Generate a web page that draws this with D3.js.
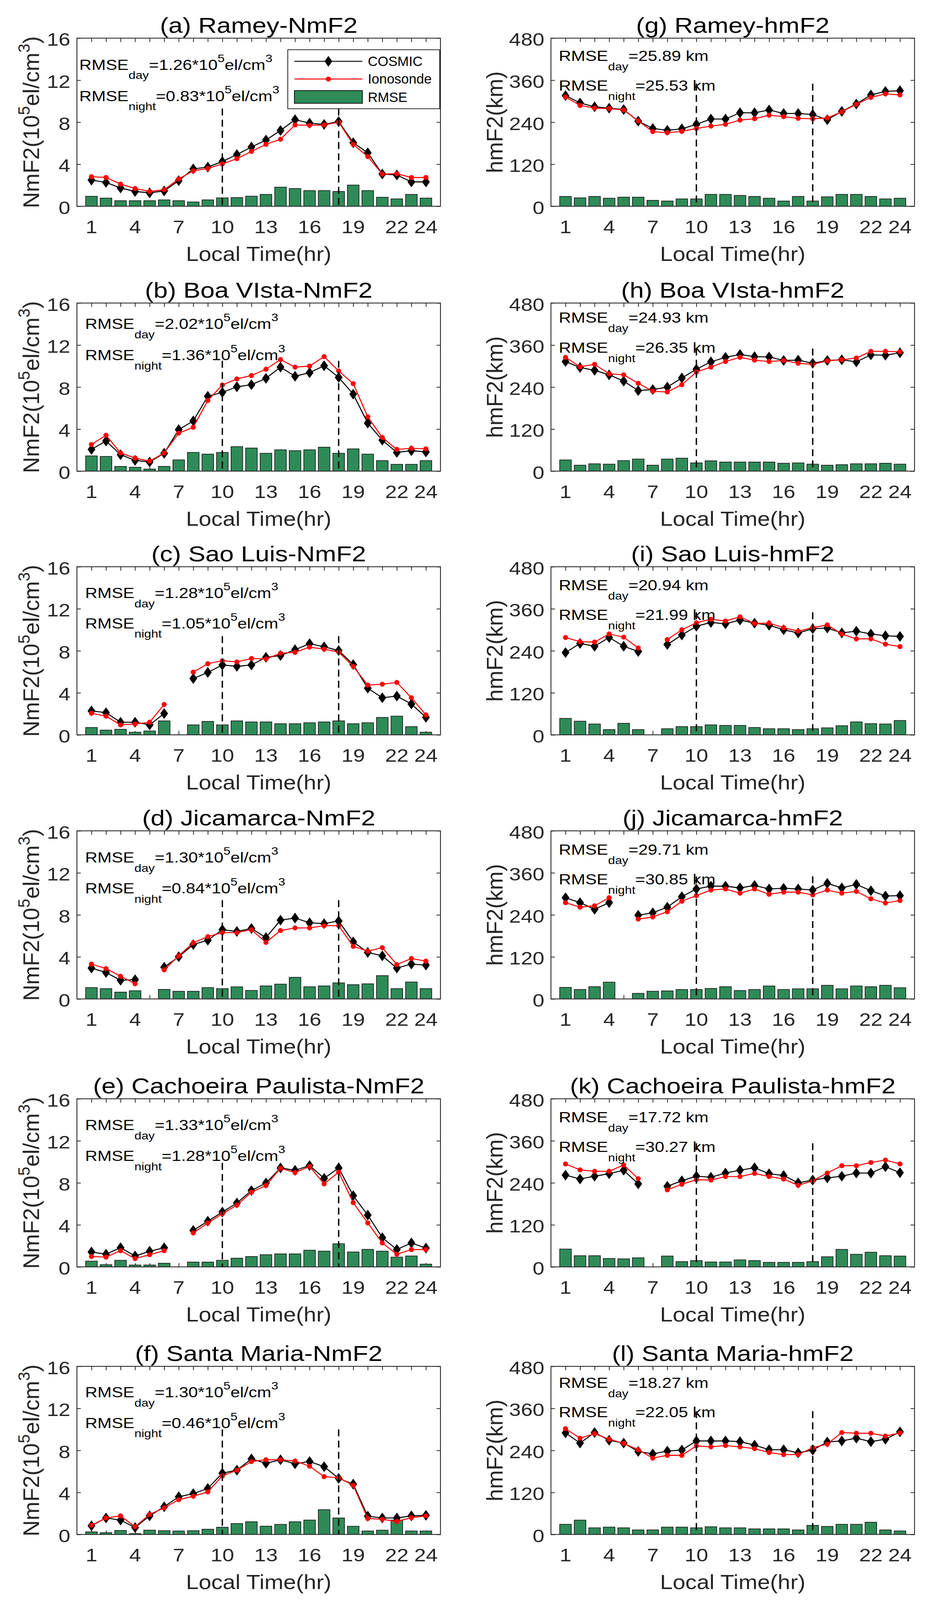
<!DOCTYPE html>
<html>
<head>
<meta charset="utf-8">
<script src="https://cdn.jsdelivr.net/npm/d3@7"></script>
<style>
html, body { margin: 0; padding: 0; background: #fff; overflow: hidden; }
svg { display: block; }
text { font-family: "Liberation Sans", Arial, sans-serif; }
</style>
</head>
<body>
<div id="chart"></div>
<script>
// ---- data ----
const hours = d3.range(1, 25);
const xTickLabels = [1, 4, 7, 10, 13, 16, 19, 22, 24];
const nmTicks = [0, 4, 8, 12, 16];
const hmTicks = [0, 120, 240, 360, 480];

const rameyNmCosmic = [2.49,2.27,1.74,1.41,1.28,1.46,2.44,3.56,3.73,4.26,4.92,5.64,6.30,7.21,8.24,7.91,7.79,8.07,6.05,5.09,3.07,2.98,2.32,2.32];
const rameyNmIono   = [2.82,2.74,2.11,1.69,1.41,1.58,2.60,3.37,3.60,4.03,4.53,5.22,5.89,6.38,7.74,7.71,7.74,8.01,5.89,4.73,3.07,3.10,2.74,2.74];
const rameyNmRmse   = [0.95,0.78,0.53,0.53,0.53,0.61,0.53,0.41,0.61,0.80,0.83,0.96,1.13,1.82,1.69,1.49,1.49,1.41,2.02,1.49,0.86,0.70,1.13,0.78];

const rameyHmCosmic = [316,295,284,280,276,243,222,217,221,234,249,249,267,267,275,265,265,262,247,271,292,318,328,330];
const rameyHmIono   = [312,288,280,279,275,244,213,210,214,222,229,234,246,250,260,256,251,250,252,270,291,311,321,318];
const rameyHmRmse   = [28,24,28,23,26,26,17,15,21,21,34,34,31,28,23,15,28,15,27,34,34,28,21,23];

const boaNmCosmic = [2.07,2.87,1.57,1.03,0.87,1.70,3.95,4.78,7.12,7.50,8.03,8.23,8.83,9.90,9.03,9.37,10.03,8.92,7.33,4.57,2.95,1.78,1.95,1.83];
const boaNmIono   = [2.53,3.42,1.73,1.25,0.95,1.73,3.62,4.17,6.73,8.20,8.78,9.10,9.70,10.62,9.90,10.00,10.90,9.53,8.33,5.17,3.20,2.07,2.17,2.12];
const boaNmRmse   = [1.45,1.40,0.45,0.37,0.20,0.45,1.07,1.78,1.62,1.78,2.33,2.20,1.70,2.03,1.95,2.03,2.28,1.70,2.12,1.62,1.00,0.65,0.65,1.00];

const boaHmCosmic = [313,296,288,275,257,230,233,240,266,291,312,325,333,327,326,316,317,308,316,318,312,332,331,338];
const boaHmIono   = [325,298,305,278,275,251,228,226,247,283,297,313,325,317,313,316,308,305,315,318,323,342,342,341];
const boaHmRmse   = [32,17,21,20,30,34.5,17,34.5,37,23.5,29.5,26,26,26,26,22.5,23.5,20,17,18.5,21,21,22.5,20];

const saoNmCosmic = [2.28,2.11,1.20,1.20,0.95,2.03,null,5.36,5.94,6.65,6.52,6.65,7.38,7.55,8.10,8.68,8.38,8.02,6.69,4.44,3.53,3.69,2.94,1.66];
const saoNmIono   = [2.06,1.78,0.95,1.03,1.20,2.89,null,5.97,6.77,7.05,6.94,7.27,7.22,7.77,7.85,8.35,8.15,7.88,6.52,4.74,4.82,4.99,3.53,1.90];
const saoNmRmse   = [0.70,0.45,0.53,0.25,0.37,1.33,null,0.95,1.28,0.95,1.33,1.23,1.23,1.06,1.06,1.15,1.23,1.33,1.06,1.15,1.66,1.78,0.78,0.25];

const saoHmCosmic = [235,261,253,278,253,238,null,258,285,310,321,317,328,319,313,300,291,303,305,291,296,288,283,281];
const saoHmIono   = [278,266,265,288,279,248,null,272,300,320,330,325,337,318,319,306,296,306,314,288,274,274,259,252];
const saoHmRmse   = [47,39,31,15,33,15,null,17.5,23.5,23.5,28.5,27,27,21,17.5,17.5,15,17.5,20,26,37,32,31,41];

const jicNmCosmic = [2.94,2.52,1.78,1.83,null,3.02,4.02,5.18,5.59,6.59,6.42,6.71,5.84,7.50,7.70,7.25,7.17,7.42,5.43,4.43,4.10,2.94,3.32,3.22];
const jicNmIono   = [3.32,2.89,2.16,1.44,null,2.77,4.10,5.34,5.93,6.31,6.31,6.59,5.38,6.51,6.76,6.76,6.97,6.97,5.01,4.55,4.88,3.27,3.85,3.60];
const jicNmRmse   = [1.08,0.98,0.65,0.78,null,0.91,0.73,0.73,1.08,0.98,1.15,0.81,1.24,1.41,2.06,1.16,1.24,1.53,1.36,1.44,2.22,0.98,1.61,0.98];

const jicHmCosmic = [289,275,256,275,null,239,246,262,292,314,322,322,317,324,314,316,314,311,330,317,327,309,294,295];
const jicHmIono   = [275,262,266,289,null,228,234,249,279,295,311,314,302,314,299,305,305,297,311,302,307,286,274,281];
const jicHmRmse   = [33,27,35,48,null,16,22,23,27,27,30,35,24,27,37,27,29,29,39,29,37,35,39,32];

const cacNmCosmic = [1.42,1.21,1.83,1.04,1.49,1.82,null,3.47,4.35,5.22,6.08,7.27,7.98,9.42,9.19,9.64,8.43,9.42,6.78,4.93,2.78,1.65,2.28,1.79];
const cacNmIono   = [0.99,0.93,1.54,0.79,1.16,1.54,null,3.24,4.18,5.06,5.88,7.11,7.74,9.39,8.98,9.55,7.90,9.02,6.12,4.18,2.28,1.21,1.65,1.65];
const cacNmRmse   = [0.55,0.21,0.63,0.18,0.18,0.35,null,0.46,0.46,0.63,0.83,0.99,1.16,1.24,1.24,1.59,1.50,2.20,1.42,1.67,1.50,0.93,1.04,0.26];

const cacHmCosmic = [262,251,259,266,276,237,null,230,246,259,256,268,276,283,266,261,240,248,254,259,268,268,286,269];
const cacHmIono   = [294,277,273,273,291,252,null,220,236,249,248,258,258,267,258,251,233,246,268,289,289,298,305,294];
const cacHmRmse   = [51,32,32,24,23,26,null,31,15,18,14,14,20,18,13,13,13,15,29,50,36,42,32,31];

const smNmCosmic = [0.83,1.57,1.37,0.66,1.77,2.64,3.59,3.88,4.38,5.83,6.12,7.19,6.78,7.11,6.73,6.94,6.45,5.34,4.79,1.74,1.57,1.57,1.77,1.82];
const smNmIono   = [0.88,1.57,1.77,0.74,1.90,2.53,3.31,3.64,4.05,5.57,6.12,6.94,7.11,7.11,6.99,6.50,5.50,5.40,4.68,1.52,1.44,1.24,1.60,1.77];
const smNmRmse   = [0.25,0.17,0.38,0.08,0.41,0.36,0.33,0.36,0.50,0.69,1.04,1.21,0.79,0.96,1.21,1.37,2.36,1.57,0.78,0.33,0.41,1.37,0.33,0.33];

const smHmCosmic = [290,261,291,269,261,237,230,238,241,267,267,267,265,255,242,242,233,241,264,267,275,265,272,293];
const smHmIono   = [302,275,288,272,260,242,218,226,226,253,250,254,250,245,234,228,228,248,258,291,289,289,281,290];
const smHmRmse   = [29,41,19,21,19,13,13,21,21,19,22,19,19,16,16,16,13,26,23,29,29,35,13,10];

const panels = [
    {title: "(a) Ramey-NmF2", col: 0, row: 0, kind: "nm", cosmic: rameyNmCosmic, iono: rameyNmIono, rmse: rameyNmRmse, day: "1.26", night: "0.83", tx: 6, ty: [82, 163], dashTop: 9.3, legend: true},
    {title: "(b) Boa VIsta-NmF2", col: 0, row: 1, kind: "nm", cosmic: boaNmCosmic, iono: boaNmIono, rmse: boaNmRmse, day: "2.02", night: "1.36", tx: 21, ty: [67, 148], dashTop: 10.5},
    {title: "(c) Sao Luis-NmF2", col: 0, row: 2, kind: "nm", cosmic: saoNmCosmic, iono: saoNmIono, rmse: saoNmRmse, day: "1.28", night: "1.05", tx: 21, ty: [81, 160], dashTop: 9.4},
    {title: "(d) Jicamarca-NmF2", col: 0, row: 3, kind: "nm", cosmic: jicNmCosmic, iono: jicNmIono, rmse: jicNmRmse, day: "1.30", night: "0.84", tx: 21, ty: [82, 162], dashTop: 9.4},
    {title: "(e) Cachoeira Paulista-NmF2", col: 0, row: 4, kind: "nm", cosmic: cacNmCosmic, iono: cacNmIono, rmse: cacNmRmse, day: "1.33", night: "1.28", tx: 21, ty: [81, 161], dashTop: 9.9},
    {title: "(f) Santa Maria-NmF2", col: 0, row: 5, kind: "nm", cosmic: smNmCosmic, iono: smNmIono, rmse: smNmRmse, day: "1.30", night: "0.46", tx: 21, ty: [80, 160], dashTop: 10.0},
    {title: "(g) Ramey-hmF2", col: 1, row: 0, kind: "hm", cosmic: rameyHmCosmic, iono: rameyHmIono, rmse: rameyHmRmse, day: "25.89", night: "25.53", tx: 20, ty: [59, 136], dashTop: 350},
    {title: "(h) Boa VIsta-hmF2", col: 1, row: 1, kind: "hm", cosmic: boaHmCosmic, iono: boaHmIono, rmse: boaHmRmse, day: "24.93", night: "26.35", tx: 20, ty: [51, 129], dashTop: 350},
    {title: "(i) Sao Luis-hmF2", col: 1, row: 2, kind: "hm", cosmic: saoHmCosmic, iono: saoHmIono, rmse: saoHmRmse, day: "20.94", night: "21.99", tx: 20, ty: [61, 138], dashTop: 350},
    {title: "(j) Jicamarca-hmF2", col: 1, row: 3, kind: "hm", cosmic: jicHmCosmic, iono: jicHmIono, rmse: jicHmRmse, day: "29.71", night: "30.85", tx: 20, ty: [62, 139], dashTop: 350},
    {title: "(k) Cachoeira Paulista-hmF2", col: 1, row: 4, kind: "hm", cosmic: cacHmCosmic, iono: cacHmIono, rmse: cacHmRmse, day: "17.72", night: "30.27", tx: 20, ty: [61, 138], dashTop: 353},
    {title: "(l) Santa Maria-hmF2", col: 1, row: 5, kind: "hm", cosmic: smHmCosmic, iono: smHmIono, rmse: smHmRmse, day: "18.27", night: "22.05", tx: 20, ty: [56, 132], dashTop: 352}
];

// ---- layout ----
const W = 2374, H = 4150;
const colLeft = [197, 1411];
const rowTops = [99, 786, 1470, 2155, 2850, 3544];
const plotW = 931, plotH = 436;
const axisColor = "#262626";
const barColor = "#2e8b57";
const sx = 1.15;   // text in the figure is a bit wider than plain Arial

// fit the whole figure into the visible window
const viewW = window.innerWidth || W;
const viewH = window.innerHeight || H;

const svg = d3.select("#chart").append("svg")
    .attr("width", viewW)
    .attr("height", viewH)
    .attr("viewBox", "0 0 " + W + " " + H)
    .attr("preserveAspectRatio", "none");

svg.append("rect").attr("width", W).attr("height", H).attr("fill", "#fff");

function diamond(hw, hh) {
    return "M0," + (-hh) + "L" + hw + ",0L0," + hh + "L" + (-hw) + ",0Z";
}

panels.forEach(function(p) {
    let g = svg.append("g")
        .attr("transform", "translate(" + colLeft[p.col] + "," + rowTops[p.row] + ")");

    let x = d3.scaleLinear().domain([0, 25]).range([0, plotW]);
    let yTicks = p.kind === "nm" ? nmTicks : hmTicks;
    let y = d3.scaleLinear().domain([0, d3.max(yTicks)]).range([plotH, 0]);

    // white plot area
    g.append("rect").attr("width", plotW).attr("height", plotH).attr("fill", "#fff");

    // ticks (inward, MATLAB style)
    g.append("g").attr("transform", "translate(0," + plotH + ")")
        .call(d3.axisBottom(x).tickValues(hours).tickSizeInner(-10).tickSizeOuter(0).tickFormat(""))
        .call(s => s.select(".domain").remove());
    g.append("g")
        .call(d3.axisTop(x).tickValues(hours).tickSizeInner(-10).tickSizeOuter(0).tickFormat(""))
        .call(s => s.select(".domain").remove());
    g.append("g")
        .call(d3.axisLeft(y).tickValues(yTicks).tickSizeInner(-10).tickSizeOuter(0).tickFormat(""))
        .call(s => s.select(".domain").remove());
    g.append("g").attr("transform", "translate(" + plotW + ",0)")
        .call(d3.axisRight(y).tickValues(yTicks).tickSizeInner(-10).tickSizeOuter(0).tickFormat(""))
        .call(s => s.select(".domain").remove());
    g.selectAll(".tick line").attr("stroke", axisColor).attr("stroke-width", 2);

    // RMSE bars
    let bw = x(0.8) - x(0);
    g.selectAll(".bar")
        .data(hours.map((h, i) => ({h: h, v: p.rmse[i]})).filter(d => d.v != null))
        .enter().append("rect")
        .attr("class", "bar")
        .attr("x", d => x(d.h) - bw / 2)
        .attr("y", d => y(d.v))
        .attr("width", bw)
        .attr("height", d => y(0) - y(d.v))
        .attr("fill", barColor)
        .attr("stroke", "#111")
        .attr("stroke-width", 1.6);

    // series lines
    let line = d3.line()
        .defined(d => d.v != null)
        .x(d => x(d.h))
        .y(d => y(d.v));

    let cos = hours.map((h, i) => ({h: h, v: p.cosmic[i]}));
    let ion = hours.map((h, i) => ({h: h, v: p.iono[i]}));

    g.append("path").datum(cos).attr("d", line)
        .attr("fill", "none").attr("stroke", "#000").attr("stroke-width", 2.6);
    g.selectAll(".dia").data(cos.filter(d => d.v != null)).enter().append("path")
        .attr("class", "dia")
        .attr("d", diamond(10, 14))
        .attr("transform", d => "translate(" + x(d.h) + "," + y(d.v) + ")")
        .attr("fill", "#000");

    g.append("path").datum(ion).attr("d", line)
        .attr("fill", "none").attr("stroke", "#ff0000").attr("stroke-width", 2.6);
    g.selectAll(".dot").data(ion.filter(d => d.v != null)).enter().append("circle")
        .attr("class", "dot")
        .attr("cx", d => x(d.h))
        .attr("cy", d => y(d.v))
        .attr("r", 6.5)
        .attr("fill", "#ff0000");

    // day / night boundaries
    [10, 18].forEach(function(h) {
        g.append("line")
            .attr("x1", x(h)).attr("x2", x(h))
            .attr("y1", y(p.dashTop)).attr("y2", y(0))
            .attr("stroke", "#000")
            .attr("stroke-width", 3.5)
            .attr("stroke-dasharray", "18,11");
    });

    // frame
    g.append("rect").attr("width", plotW).attr("height", plotH)
        .attr("fill", "none").attr("stroke", axisColor).attr("stroke-width", 2.2);

    // tick labels
    g.selectAll(".xl").data(xTickLabels).enter().append("text")
        .attr("class", "xl")
        .attr("transform", d => "translate(" + x(d) + "," + (plotH + 70) + ") scale(" + sx + ",1)")
        .attr("text-anchor", "middle")
        .attr("font-size", 47)
        .attr("fill", axisColor)
        .text(d => d);

    g.selectAll(".yl").data(yTicks).enter().append("text")
        .attr("class", "yl")
        .attr("transform", d => "translate(-17," + (y(d) + 20) + ") scale(" + sx + ",1)")
        .attr("text-anchor", "end")
        .attr("font-size", 47)
        .attr("fill", axisColor)
        .text(d => d);

    // title and axis labels
    g.append("text")
        .attr("transform", "translate(" + plotW / 2 + ",-14) scale(" + sx + ",1)")
        .attr("text-anchor", "middle")
        .attr("font-size", 57)
        .attr("fill", "#000")
        .text(p.title);

    g.append("text")
        .attr("transform", "translate(" + plotW / 2 + "," + (plotH + 142) + ") scale(1.1,1)")
        .attr("text-anchor", "middle")
        .attr("font-size", 53)
        .attr("fill", axisColor)
        .text("Local Time(hr)");

    let yl = g.append("text")
        .attr("transform", "translate(" + (p.kind === "nm" ? -97 : -124) + "," + plotH / 2 + ") rotate(-90)")
        .attr("text-anchor", "middle")
        .attr("font-size", 58)
        .attr("fill", axisColor);
    if (p.kind === "nm") {
        yl.append("tspan").text("NmF2(10");
        yl.append("tspan").attr("dy", -24).attr("font-size", 42).text("5");
        yl.append("tspan").attr("dy", 24).text("el/cm");
        yl.append("tspan").attr("dy", -24).attr("font-size", 42).text("3");
        yl.append("tspan").attr("dy", 24).text(")");
    } else {
        yl.text("hmF2(km)");
    }

    // RMSE annotations
    [["day", p.day], ["night", p.night]].forEach(function(r, k) {
        let t = g.append("text")
            .attr("transform", "translate(" + p.tx + "," + p.ty[k] + ") scale(" + sx + ",1)")
            .attr("font-size", 38)
            .attr("fill", "#000");
        t.append("tspan").text("RMSE");
        t.append("tspan").attr("dy", 24).attr("font-size", 28).text(r[0]);
        if (p.kind === "nm") {
            t.append("tspan").attr("dy", -24).text("=" + r[1] + "*10");
            t.append("tspan").attr("dy", -20).attr("font-size", 28).text("5");
            t.append("tspan").attr("dy", 20).text("el/cm");
            t.append("tspan").attr("dy", -20).attr("font-size", 28).text("3");
        } else {
            t.append("tspan").attr("dy", -24).text("=" + r[1] + " km");
        }
    });

    // legend (first panel only)
    if (p.legend) {
        let lg = g.append("g").attr("transform", "translate(" + (737 - colLeft[0]) + "," + (129 - rowTops[0]) + ")");
        lg.append("rect").attr("width", 389).attr("height", 153)
            .attr("fill", "#fff").attr("stroke", axisColor).attr("stroke-width", 2);
        lg.append("line").attr("x1", 17).attr("x2", 191).attr("y1", 30).attr("y2", 30)
            .attr("stroke", "#333").attr("stroke-width", 3);
        lg.append("path").attr("d", diamond(10, 14)).attr("transform", "translate(104,30)").attr("fill", "#000");
        lg.append("line").attr("x1", 17).attr("x2", 191).attr("y1", 76).attr("y2", 76)
            .attr("stroke", "#ff0000").attr("stroke-width", 2.6);
        lg.append("circle").attr("cx", 104).attr("cy", 76).attr("r", 6.5).attr("fill", "#ff0000");
        lg.append("rect").attr("x", 17).attr("y", 106).attr("width", 174).attr("height", 33)
            .attr("fill", barColor).attr("stroke", "#111").attr("stroke-width", 2);
        [["COSMIC", 42], ["Ionosonde", 88], ["RMSE", 135]].forEach(function(e) {
            lg.append("text").attr("x", 205).attr("y", e[1])
                .attr("font-size", 35).attr("fill", "#000").text(e[0]);
        });
    }
});
</script>
</body>
</html>
